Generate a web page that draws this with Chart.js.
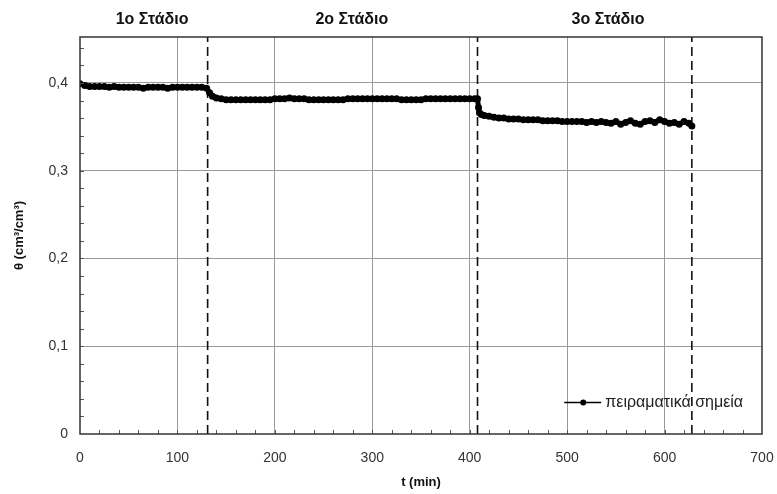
<!DOCTYPE html>
<html>
<head>
<meta charset="utf-8">
<script src="https://cdn.jsdelivr.net/npm/chart.js@4/dist/chart.umd.min.js"></script>
<style>
  html, body { margin: 0; padding: 0; background: #fff; }
  #wrap { width: 777px; height: 494px; }
</style>
</head>
<body>
<div id="wrap"><canvas id="canvass" width="777" height="494"></canvas></div>
<script>
// measured points (t in min, theta in cm3/cm3)
var tMin = [0,5,10,15,20,25,30,35,40,45,50,55,60,65,70,75,80,85,90,95,100,105,110,115,120,125,130,133,136,140,145,
  150,155,160,165,170,175,180,185,190,195,200,205,210,215,220,225,230,235,240,245,250,255,260,265,270,275,280,285,290,295,
  300,305,310,315,320,325,330,335,340,345,350,355,360,365,370,375,380,385,390,395,400,405,408,
  409,410,412,415,420,425,430,435,440,445,450,455,460,465,470,475,480,485,490,495,500,505,510,515,520,525,530,535,540,545,
  550,555,560,565,570,575,580,585,590,595,600,605,610,615,620,625,628];
var theta = [0.399,0.397,0.396,0.396,0.396,0.396,0.395,0.396,0.395,0.395,0.395,0.395,0.395,0.394,0.395,0.395,0.395,0.395,0.394,0.395,0.395,0.395,0.395,0.395,0.395,0.395,0.394,0.389,0.385,0.383,0.382,
  0.381,0.381,0.381,0.381,0.381,0.381,0.381,0.381,0.381,0.381,0.382,0.382,0.382,0.383,0.382,0.382,0.382,0.381,0.381,0.381,0.381,0.381,0.381,0.381,0.381,0.382,0.382,0.382,0.382,0.382,
  0.382,0.382,0.382,0.382,0.382,0.382,0.381,0.381,0.381,0.381,0.381,0.382,0.382,0.382,0.382,0.382,0.382,0.382,0.382,0.382,0.382,0.382,0.382,
  0.372,0.366,0.364,0.363,0.362,0.361,0.360,0.360,0.359,0.359,0.359,0.358,0.358,0.358,0.358,0.357,0.357,0.357,0.357,0.356,0.356,0.356,0.356,0.356,0.355,0.356,0.355,0.356,0.355,0.354,
  0.356,0.353,0.355,0.357,0.354,0.353,0.356,0.357,0.355,0.358,0.356,0.354,0.355,0.353,0.356,0.354,0.351];

var stageBounds = [131, 408, 628];
var stageNames = ['1ο Στάδιο', '2ο Στάδιο', '3ο Στάδιο'];
var stageCenters = [74, 279, 542];   // t values under each stage title
var legendLabel = 'πειραματικά σημεία';

var points = tMin.map(function (t, i) { return { x: t, y: theta[i] }; });

var datasets = [{
    label: legendLabel,
    data: points,
    borderColor: '#000',
    backgroundColor: '#000',
    borderWidth: 5,
    pointRadius: 3.5,
    pointBorderWidth: 0,
    tension: 0
}];
stageBounds.forEach(function (b) {
    datasets.push({
        label: '',
        data: [{ x: b, y: 0 }, { x: b, y: 0.46 }],
        borderColor: '#111',
        borderWidth: 1.6,
        borderDash: [9, 5],
        pointRadius: 0
    });
});

var decor = {
    id: 'decor',
    afterDatasetsDraw: function (chart) {
        var ctx = chart.ctx, a = chart.chartArea;
        var xs = chart.scales.x, ys = chart.scales.y;
        ctx.save();
        // minor ticks
        ctx.strokeStyle = '#555';
        ctx.lineWidth = 1;
        ctx.beginPath();
        for (var t = 20; t < 700; t += 20) {
            var px = Math.round(xs.getPixelForValue(t)) + 0.5;
            ctx.moveTo(px, a.bottom); ctx.lineTo(px, a.bottom - 4);
        }
        for (var v = 0.02; v < 0.45; v += 0.02) {
            var py = Math.round(ys.getPixelForValue(v)) + 0.5;
            ctx.moveTo(a.left, py); ctx.lineTo(a.left + 4, py);
        }
        ctx.stroke();
        // frame
        ctx.strokeStyle = '#333';
        ctx.lineWidth = 1.5;
        ctx.strokeRect(a.left, a.top, a.right - a.left, a.bottom - a.top);
        // stage titles
        ctx.fillStyle = '#111';
        ctx.font = 'bold 16px "Liberation Sans", Arial, sans-serif';
        ctx.textAlign = 'center';
        ctx.textBaseline = 'middle';
        stageNames.forEach(function (s, i) {
            ctx.fillText(s, xs.getPixelForValue(stageCenters[i]), 20);
        });
        // legend inside plot
        var ly = ys.getPixelForValue(0.036);
        var lx = xs.getPixelForValue(497);
        ctx.strokeStyle = '#000';
        ctx.lineWidth = 1.5;
        ctx.beginPath();
        ctx.moveTo(lx, ly); ctx.lineTo(lx + 37, ly);
        ctx.stroke();
        ctx.beginPath();
        ctx.arc(lx + 19, ly, 3, 0, Math.PI * 2);
        ctx.fillStyle = '#000';
        ctx.fill();
        ctx.fillStyle = '#222';
        ctx.font = '16px "Liberation Sans", Arial, sans-serif';
        ctx.textAlign = 'left';
        ctx.fillText(legendLabel, lx + 41, ly);
        ctx.restore();
    }
};

var ctx = document.getElementById('canvass').getContext('2d');
var myChart = new Chart(ctx, {
    type: 'line',
    data: { datasets: datasets },
    options: {
        responsive: false,
        animation: false,
        layout: { autoPadding: false, padding: { top: 37, right: 15, left: 0, bottom: 0 } },
        plugins: { legend: { display: false }, tooltip: { enabled: false } },
        scales: {
            x: {
                type: 'linear',
                min: 0, max: 700,
                ticks: { stepSize: 100, color: '#333', font: { size: 14, family: '"Liberation Sans", Arial' }, padding: 2 },
                grid: {
                    color: function (c) { return (c.tick && (c.tick.value === 0 || c.tick.value === 700)) ? 'transparent' : '#9a9a9a'; },
                    drawTicks: true,
                    tickLength: 14,
                    tickColor: 'transparent'
                },
                border: { display: false },
                title: { display: true, text: 't (min)', color: '#111', font: { size: 13, weight: 'bold', family: '"Liberation Sans", Arial' }, padding: { top: 6 } },
                afterFit: function (s) { s.height = 60; }
            },
            y: {
                min: 0, max: 0.4524,
                afterBuildTicks: function (s) {
                    s.ticks = [0, 0.1, 0.2, 0.3, 0.4].map(function (v) { return { value: v }; });
                },
                ticks: {
                    color: '#333', font: { size: 14, family: '"Liberation Sans", Arial' }, padding: 12,
                    callback: function (v) { return v === 0 ? '0' : v.toFixed(1).replace('.', ','); }
                },
                grid: {
                    color: function (c) { return (c.tick && c.tick.value === 0) ? 'transparent' : '#9a9a9a'; },
                    drawTicks: false
                },
                border: { display: false },
                title: { display: true, text: 'θ (cm³/cm³)', color: '#111', font: { size: 13, weight: 'bold', family: '"Liberation Sans", Arial' }, padding: { top: 12, bottom: 0 } },
                afterFit: function (s) { s.width = 80; }
            }
        }
    },
    plugins: [decor]
});
</script>
</body>
</html>
